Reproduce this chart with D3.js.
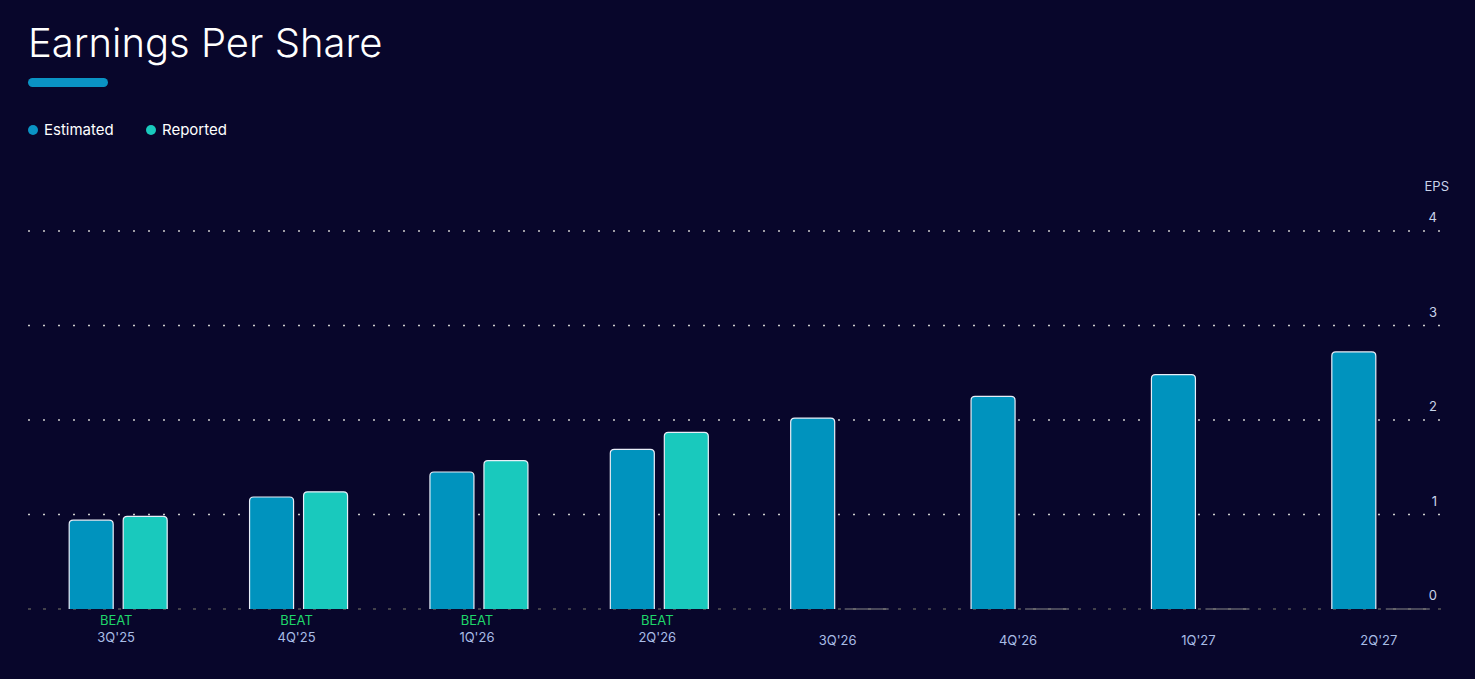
<!DOCTYPE html>
<html><head><meta charset="utf-8">
<script src="https://cdn.jsdelivr.net/npm/d3@7"></script>
<style>
body{margin:0;background:#08062b;font-family:Inter,sans-serif;}
</style></head>
<body><svg id="chart" width="1475" height="679"></svg>
<script>
const quarters = ["3Q'25","4Q'25","1Q'26","2Q'26","3Q'26","4Q'26","1Q'27","2Q'27"];
const estimated = [0.94,1.185,1.45,1.69,2.02,2.25,2.48,2.72];
const reported = [0.98,1.24,1.57,1.87,0,0,0,0];
const results = ["BEAT","BEAT","BEAT","BEAT","","","",""];
const yTicks = [0,1,2,3,4];

const svg = d3.select("#chart");
const x = d3.scaleBand().domain(quarters).range([28,1471]);
const y = d3.scaleLinear().domain([0,4]).range([609,231]);

// title
svg.append("text").attr("x",28).attr("y",57).attr("fill","#fff")
  .attr("font-size",40).attr("font-weight",300).text("Earnings Per Share");
svg.append("rect").attr("x",28).attr("y",78).attr("width",80).attr("height",9)
  .attr("rx",4.5).attr("fill","#0a93c4");

// legend
[["Estimated","#0a93c4",33],["Reported","#19c9bd",151]].forEach(([t,c,lx])=>{
  svg.append("circle").attr("cx",lx).attr("cy",130).attr("r",5).attr("fill",c);
  svg.append("text").attr("x",lx+11).attr("y",135).attr("fill","#fff")
    .attr("font-size",15).text(t);
});

// grid
yTicks.forEach(t=>{
  svg.append("line").attr("x1",28).attr("x2",1443).attr("y1",y(t)).attr("y2",y(t))
    .attr("stroke",t===0?"#555":"#ccc").attr("stroke-width",1.5)
    .attr("stroke-dasharray",t===0?"3,12":"2,13");
  svg.append("text").attr("x",1437).attr("y",y(t)-9).attr("text-anchor","end")
    .attr("fill","#c9d3ea").attr("font-size",13).text(t);
});
svg.append("text").attr("x",1449).attr("y",191).attr("text-anchor","end")
  .attr("fill","#c9d3ea").attr("font-size",13).text("EPS");

const bw = 44;
quarters.forEach((q,i)=>{
  const c = x(q)+x.bandwidth()/2;
  svg.append("path").attr("d",barPath(c-49,y(estimated[i]),bw,y(0)))
    .attr("fill","#0093be").attr("stroke","#e8eef8").attr("stroke-width",1.2);
  if(reported[i]>0){
    svg.append("path").attr("d",barPath(c+5,y(reported[i]),bw,y(0)))
      .attr("fill","#19c9bd").attr("stroke","#e8eef8").attr("stroke-width",1.2);
  } else {
    svg.append("line").attr("x1",c+5).attr("x2",c+49).attr("y1",y(0)).attr("y2",y(0))
      .attr("stroke","#888").attr("stroke-width",1);
  }
  if(results[i]){
    svg.append("text").attr("x",c-2).attr("y",625).attr("text-anchor","middle")
      .attr("fill","#1fd66a").attr("font-size",13).text(results[i]);
    svg.append("text").attr("x",c-2).attr("y",642).attr("text-anchor","middle")
      .attr("fill","#a9bde6").attr("font-size",13).text(q);
  } else {
    svg.append("text").attr("x",c-2).attr("y",645).attr("text-anchor","middle")
      .attr("fill","#a9bde6").attr("font-size",13).text(q);
  }
});

function barPath(x0,y0,w,yb){
  const r=4;
  return `M${x0},${yb}V${y0+r}Q${x0},${y0} ${x0+r},${y0}H${x0+w-r}Q${x0+w},${y0} ${x0+w},${y0+r}V${yb}`;
}
</script></body></html>
